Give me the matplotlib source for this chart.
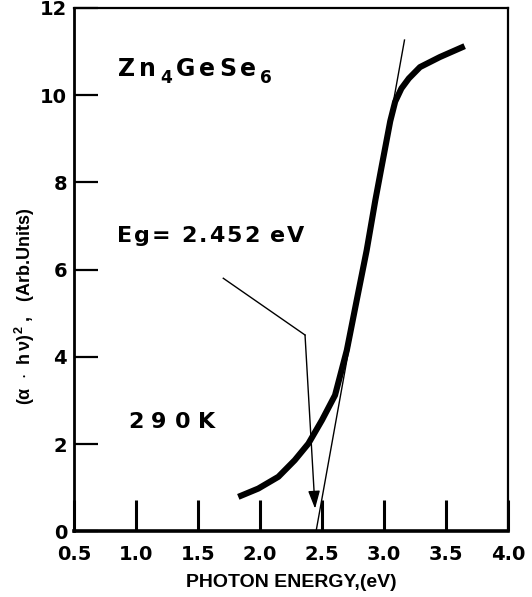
import matplotlib
matplotlib.use("Agg")
import matplotlib.pyplot as plt
from matplotlib.transforms import offset_copy

# absorption edge, (alpha*h*nu)^2 vs photon energy
energy = [1.825, 1.986, 2.148, 2.28, 2.39, 2.50, 2.605, 2.70, 2.78, 2.86,
          2.93, 2.98, 3.02, 3.05, 3.09, 3.14, 3.20, 3.29, 3.45, 3.65]
alpha_hv_sq = [0.79, 0.98, 1.25, 1.63, 2.01, 2.55, 3.12, 4.15, 5.30, 6.44,
               7.59, 8.35, 8.95, 9.40, 9.85, 10.15, 10.38, 10.64, 10.87, 11.12]

# linear extrapolation to the gap
tangent_x = [2.452, 3.165]
tangent_y = [0.0, 11.26]

# pointer from the Eg label down to the gap
pointer_x = [1.704, 2.363]
pointer_y = [5.80, 4.50]
arrow_tip = (2.444, 0.52)

xticks = [0.5, 1.0, 1.5, 2.0, 2.5, 3.0, 3.5, 4.0]
xlabels = ["0.5", "1.0", "1.5", "2.0", "2.5", "3.0", "3.5", "4.0"]
yticks = [0, 2, 4, 6, 8, 10, 12]

plt.rcParams['font.family'] = ['DejaVu Sans']
plt.rcParams['mathtext.default'] = 'regular'
label_font = ['Liberation Sans', 'DejaVu Sans']

fig = plt.figure(figsize=(5.32, 5.97), dpi=100)
ax = fig.add_axes([0.139, 0.110, 0.816, 0.877])
renderer = fig.canvas.get_renderer()


def tracked(x, y, parts, size, track):
    # draw text letter by letter with extra spacing (in pixels)
    dx = 0.0
    for chunk, sub in parts:
        fs = size * 0.72 if sub else size
        dy = -size * 0.32 * 100 / 72 if sub else 0.0
        for ch in chunk:
            if ch == ' ':
                dx += 0.30 * fs * 100 / 72 + track
                continue
            tr = offset_copy(ax.transData, fig=fig, x=dx, y=dy, units='dots')
            t = ax.text(x, y, ch, fontsize=fs, fontweight='bold',
                        va='baseline', ha='left', transform=tr)
            dx += t.get_window_extent(renderer).width + track


ax.plot(energy, alpha_hv_sq, color='black', lw=4.4, solid_capstyle='butt',
        solid_joinstyle='round')
ax.plot(tangent_x, tangent_y, color='black', lw=1.0)
ax.plot(pointer_x, pointer_y, color='black', lw=1.0)
ax.annotate("", xy=arrow_tip, xytext=(pointer_x[1], pointer_y[1]),
            arrowprops=dict(arrowstyle='-|>,head_length=0.6,head_width=0.2',
                            color='black', lw=1.0, mutation_scale=18,
                            shrinkA=0, shrinkB=0))

ax.set_xlim(0.5, 4.0)
ax.set_ylim(0, 12)
ax.set_xticks(xticks)
ax.set_xticklabels(xlabels)
ax.set_yticks(yticks)

ax.tick_params(axis='x', direction='in', length=22, width=2.2, pad=10,
               labelsize=14)
ax.tick_params(axis='y', direction='in', length=17, width=1.6, pad=5,
               labelsize=14)
for lab in ax.get_xticklabels() + ax.get_yticklabels():
    lab.set_fontweight('bold')

for side in ['top', 'right']:
    ax.spines[side].set_linewidth(1.6)
ax.spines['left'].set_linewidth(2.0)
ax.spines['bottom'].set_linewidth(2.6)

tracked(0.855, 10.44, [("Zn", False), ("4", True), ("GeSe", False), ("6", True)],
        17, 4)
tracked(0.847, 6.63, [("Eg= 2.452 eV", False)], 16, 2)
tracked(0.935, 2.36, [("290K", False)], 16, 8)

fig.text(0.547, 0.025, "PHOTON ENERGY,(eV)", fontsize=14, fontweight='bold',
         family=label_font, ha='center', va='center')
fig.text(0.047, 0.487, r"$(\alpha\ \cdot\ h\,\nu)^2$ ,   (Arb.Units)",
         fontsize=13, fontweight='bold', family=label_font, rotation=90,
         ha='center', va='center')

fig.savefig("out.png", dpi=100)
